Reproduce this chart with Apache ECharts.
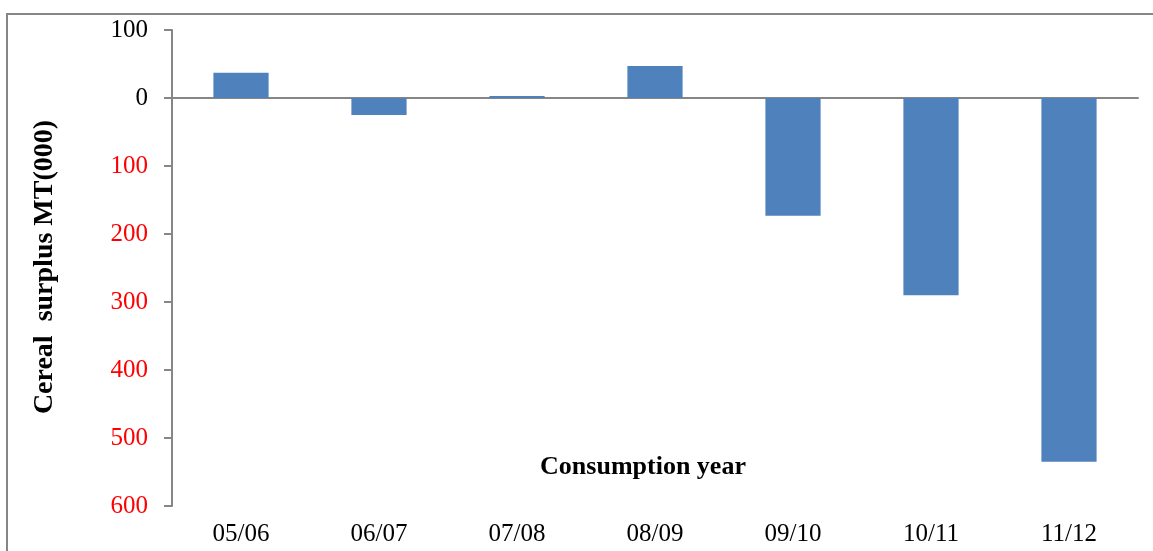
<!DOCTYPE html>
<html>
<head>
<meta charset="utf-8">
<script src="https://cdn.jsdelivr.net/npm/echarts@6/dist/echarts.min.js"></script>
<style type="text/css">
html, body { margin: 0; padding: 0; background: #fff; }
#chart { width: 1153px; height: 551px; }
</style>
</head>
<body>
<div id="chart"></div>
<script type="text/javascript">
var years = ['05/06', '06/07', '07/08', '08/09', '09/10', '10/11', '11/12'];
var surplus = [37, -25, 3, 47, -173, -290, -535];
var yTicks = [100, 0, -100, -200, -300, -400, -500, -600];

var serif = '"Liberation Serif", "DejaVu Serif", serif';
var grey = '#868686';

var option = {
    animation: false,
    backgroundColor: '#fff',
    grid: {
        left: 172,
        right: 15,
        top: 30,
        bottom: 45
    },
    graphic: [
        {
            type: 'rect',
            shape: { x: 7, y: 14, width: 1200, height: 600 },
            style: { fill: 'none', stroke: grey, lineWidth: 2 },
            silent: true
        },
        {
            type: 'text',
            x: 643,
            y: 467,
            style: {
                text: 'Consumption year',
                font: 'bold 26px ' + serif,
                fill: '#000',
                align: 'center',
                verticalAlign: 'middle'
            }
        },
        {
            type: 'text',
            x: 45,
            y: 267,
            rotation: Math.PI / 2,
            style: {
                text: 'Cereal  surplus MT(000)',
                font: 'bold 28px ' + serif,
                fill: '#000',
                align: 'center',
                verticalAlign: 'middle'
            }
        }
    ],
    xAxis: [
        {
            type: 'category',
            data: years,
            axisLine: { onZero: true, lineStyle: { color: grey, width: 2 } },
            axisTick: { inside: true, length: 7, lineStyle: { color: grey, width: 2 } },
            axisLabel: { show: false }
        },
        {
            type: 'category',
            data: years,
            position: 'bottom',
            axisLine: { show: false, onZero: false },
            axisTick: { show: false },
            axisLabel: {
                margin: 16,
                fontFamily: serif,
                fontSize: 25,
                color: '#000'
            }
        }
    ],
    yAxis: {
        type: 'value',
        min: yTicks[yTicks.length - 1],
        max: yTicks[0],
        interval: 100,
        splitLine: { show: false },
        axisLine: { show: true, lineStyle: { color: grey, width: 2 } },
        axisTick: { show: true, length: 8, lineStyle: { color: grey, width: 2 } },
        axisLabel: {
            margin: 24,
            fontFamily: serif,
            fontSize: 25,
            formatter: function (v) {
                return v < 0 ? '{r|' + Math.abs(v) + '}' : '{b|' + v + '}';
            },
            rich: {
                r: { color: '#ff0000', fontFamily: serif, fontSize: 25 },
                b: { color: '#000', fontFamily: serif, fontSize: 25 }
            }
        }
    },
    series: [
        {
            type: 'bar',
            xAxisIndex: 0,
            data: surplus,
            barWidth: '40%',
            itemStyle: { color: '#4F81BD' }
        }
    ]
};

var myChart = echarts.init(document.getElementById('chart'));
myChart.setOption(option);
</script>
</body>
</html>
